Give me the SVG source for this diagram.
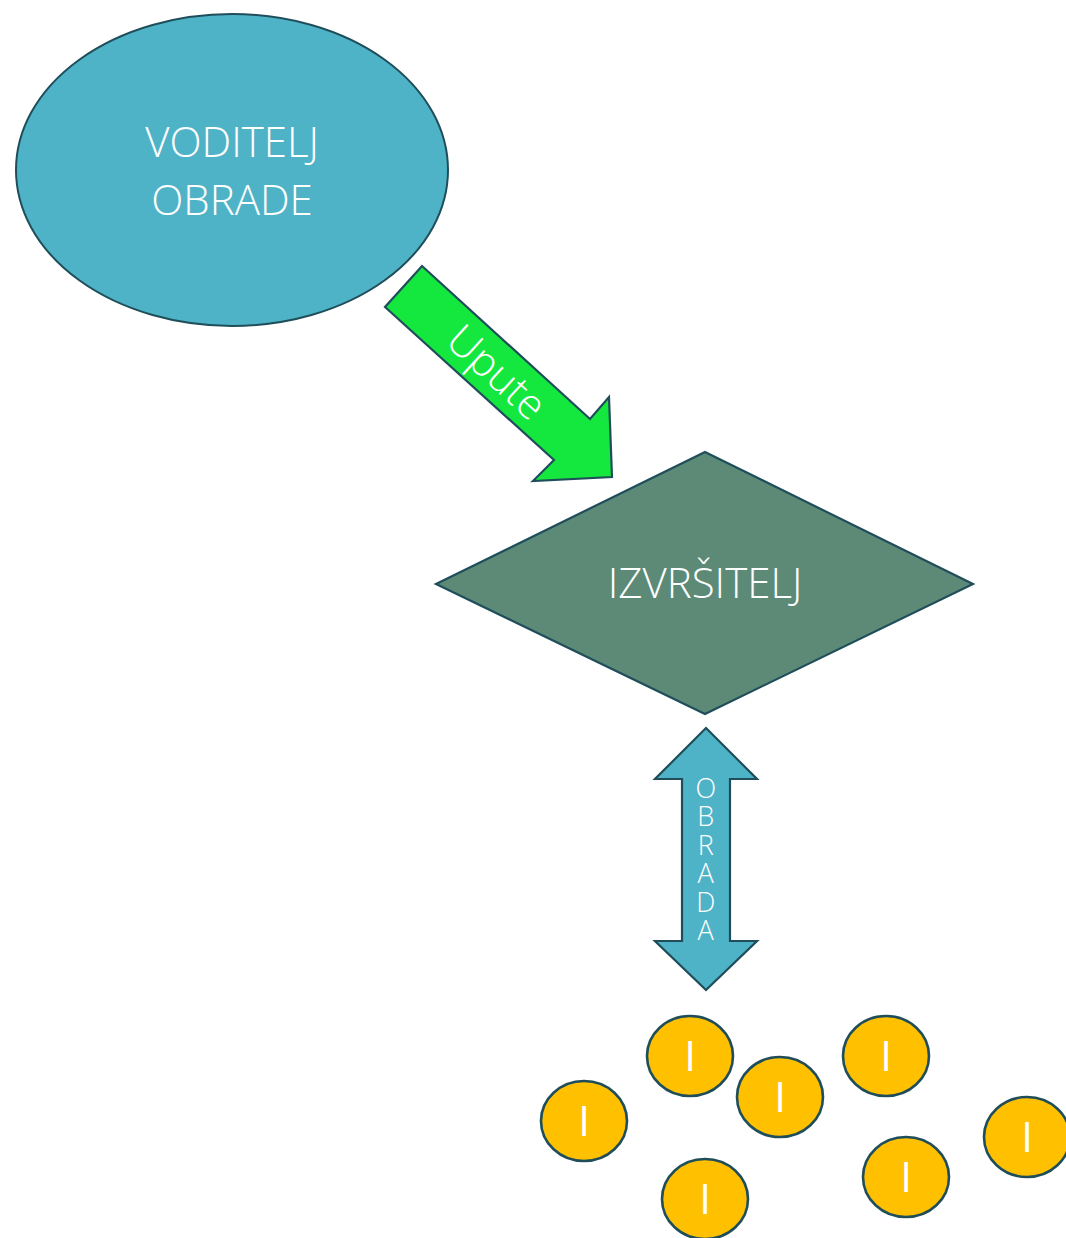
<svg xmlns="http://www.w3.org/2000/svg" width="1066" height="1238" viewBox="0 0 1066 1238">
<style>
.lbl{font-family:"Open Sans","Noto Sans","Liberation Sans",sans-serif;font-weight:300;fill:#ffffff;text-anchor:middle}
.edge{stroke:#1F4E5A;stroke-width:2.2;stroke-linejoin:miter}
.coin ellipse{fill:#FFC000;stroke:#1F4E5A;stroke-width:2.6}
.coin text{font-size:42px;font-weight:400}
.vert{writing-mode:vertical-rl;text-orientation:upright;font-size:27px;letter-spacing:-8.5px}
</style>
<rect width="1066" height="1238" fill="#ffffff"/>
<g id="voditelj">
<ellipse cx="232" cy="170" rx="216" ry="156" fill="#4FB3C7" stroke="#1F4E5A" stroke-width="2"/>
<text class="lbl" x="232" y="157" font-size="42">VODITELJ</text>
<text class="lbl" x="232" y="215" font-size="42">OBRADE</text>
</g>
<g id="izvrsitelj">
<polygon points="705,452 973,584 705,714 436,584" fill="#5C8A77" stroke="#1F4E5A" stroke-width="2.2"/>
<text class="lbl" x="705" y="598" font-size="42">IZVRŠITELJ</text>
</g>
<g id="connectors">
<g id="upute">
<polygon class="edge" points="422,266 590,419 609,397 612,477 533,481 554,460 385,307" fill="#14E83E"/>
<text class="lbl" x="0" y="0" font-size="42" transform="translate(497,372) rotate(42.4) translate(0,15)">Upute</text>
</g>
<g id="obrada">
<polygon class="edge" points="706,728 757,779 730,779 730,941 757,941 706,990 655,941 682,941 682,779 655,779" fill="#4FB3C7"/>
<text class="lbl vert" x="706" y="854">OBRADA</text>
</g>
</g>
<g id="coin1" class="coin"><ellipse cx="584" cy="1121" rx="43" ry="40"/><text class="lbl" x="584" y="1136">I</text></g>
<g id="coin2" class="coin"><ellipse cx="690" cy="1056" rx="43" ry="40"/><text class="lbl" x="690" y="1071">I</text></g>
<g id="coin3" class="coin"><ellipse cx="780" cy="1097" rx="43" ry="40"/><text class="lbl" x="780" y="1112">I</text></g>
<g id="coin4" class="coin"><ellipse cx="886" cy="1056" rx="43" ry="40"/><text class="lbl" x="886" y="1071">I</text></g>
<g id="coin5" class="coin"><ellipse cx="1027" cy="1137" rx="43" ry="40"/><text class="lbl" x="1027" y="1152">I</text></g>
<g id="coin6" class="coin"><ellipse cx="906" cy="1177" rx="43" ry="40"/><text class="lbl" x="906" y="1192">I</text></g>
<g id="coin7" class="coin"><ellipse cx="705" cy="1199" rx="43" ry="40"/><text class="lbl" x="705" y="1214">I</text></g>
</svg>
